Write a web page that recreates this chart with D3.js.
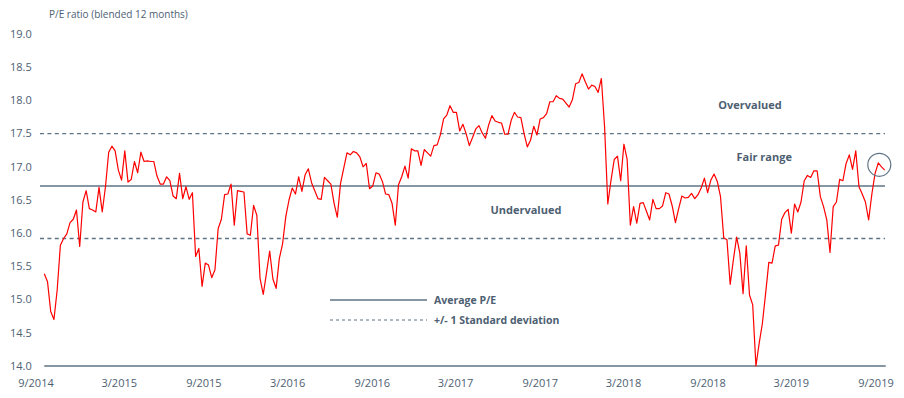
<!DOCTYPE html>
<html>
<head>
<meta charset="utf-8">
<script src="https://cdn.jsdelivr.net/npm/d3@7"></script>
<style>
  body { margin: 0; background: #fff; }
  svg { display: block; font-family: "Open Sans", "Noto Sans", sans-serif; }
</style>
</head>
<body>
<div id="chart"></div>
<script>
// weekly P/E readings, first one on 19 Sep 2014
var startDate = new Date(2014, 8, 19);
var peValues = [
  15.39, 15.27, 14.82, 14.70, 15.14, 15.82, 15.92, 15.99, 16.16, 16.21,
  16.35, 15.80, 16.47, 16.64, 16.37, 16.35, 16.32, 16.69, 16.32, 16.70,
  17.22, 17.31, 17.24, 16.95, 16.80, 17.24, 16.77, 16.81, 17.08, 16.91,
  17.22, 17.08, 17.09, 17.08, 17.08, 16.86, 16.74, 16.74, 16.85, 16.79,
  16.56, 16.52, 16.90, 16.52, 16.70, 16.51, 16.61, 15.65, 15.77, 15.20,
  15.55, 15.52, 15.33, 15.45,
  16.07, 16.21, 16.58, 16.59, 16.74, 16.12, 16.64, 16.63, 16.62, 15.99,
  15.97, 16.42, 16.27, 15.32, 15.08, 15.40, 15.73, 15.31, 15.17, 15.62,
  15.84, 16.25, 16.50, 16.68, 16.59, 16.85, 16.63, 16.88, 16.97, 16.76,
  16.64, 16.52, 16.51, 16.84, 16.79, 16.74, 16.45, 16.24, 16.75, 16.98,
  17.21, 17.18, 17.23, 17.21, 17.15, 17.00, 17.05, 16.67, 16.71, 16.91,
  16.89, 16.78,
  16.59, 16.58, 16.45, 16.12, 16.73, 16.85, 17.01, 16.83, 17.27, 17.24,
  17.24, 17.02, 17.26, 17.21, 17.16, 17.32, 17.33, 17.48, 17.72, 17.78,
  17.92, 17.82, 17.82, 17.54, 17.64, 17.50, 17.32, 17.44, 17.57, 17.62,
  17.51, 17.43, 17.63, 17.77, 17.69, 17.67, 17.66, 17.49, 17.49, 17.70,
  17.82, 17.75, 17.74, 17.50, 17.30, 17.40, 17.61, 17.48, 17.72, 17.74,
  17.80, 17.98,
  17.98, 18.07, 18.03, 18.02, 17.96, 17.90, 18.01, 18.25, 18.27, 18.40,
  18.28, 18.17, 18.23, 18.21, 18.12, 18.33, 17.60, 16.44, 16.80, 17.11,
  17.16, 16.79, 17.34, 17.11, 16.12, 16.40, 16.15, 16.45, 16.46, 16.33,
  16.20, 16.51, 16.37, 16.37, 16.41, 16.61, 16.59, 16.41, 16.16, 16.37,
  16.56, 16.53, 16.54, 16.60, 16.52, 16.58, 16.68, 16.83, 16.61, 16.80,
  16.89, 16.78,
  16.55, 15.93, 15.90, 15.23, 15.60, 15.94, 15.70, 15.09, 15.81, 15.07,
  14.92, 14.00, 14.34, 14.64, 15.09, 15.56, 15.55, 15.81, 15.82, 16.21,
  16.31, 16.36, 16.00, 16.44, 16.32, 16.47, 16.79, 16.87, 16.84, 16.94,
  16.94, 16.55, 16.40, 16.20, 15.71, 16.40, 16.47, 16.81, 16.79, 17.05,
  17.18, 16.96, 17.24, 16.70, 16.59, 16.47, 16.20, 16.59, 16.90, 17.06,
  17.00, 16.95
];

var averagePE = 16.71;
var stdDev = 0.79;

var yTicks = [14.0, 14.5, 15.0, 15.5, 16.0, 16.5, 17.0, 17.5, 18.0, 18.5, 19.0];
var xTickLabels = ['9/2014', '3/2015', '9/2015', '3/2016', '9/2016', '3/2017',
  '9/2017', '3/2018', '9/2018', '3/2019', '9/2019'];

var zoneLabels = [
  {text: 'Overvalued', value: 17.93, month: '12/2018'},
  {text: 'Fair range', value: 17.14, month: '1/2019'},
  {text: 'Undervalued', value: 16.34, month: '8/2017'}
];

var legendItems = [
  {text: 'Average P/E', dashed: false},
  {text: '+/- 1 Standard deviation', dashed: true}
];

var width = 904, height = 398;
var margin = {top: 34, right: 17, bottom: 32, left: 40};
var textColor = '#4d6072';
var lineColor = '#5e7385';

function parseMonth(s) {
  var p = s.split('/');
  return new Date(+p[1], +p[0] - 1, 1);
}

var series = peValues.map(function(v, i) {
  return {date: d3.timeDay.offset(startDate, i * 7), value: v};
});

var x = d3.scaleTime()
  .domain([parseMonth('9/2014'), parseMonth('9/2019')])
  .range([36, 876]);

var y = d3.scaleLinear()
  .domain([14, 19])
  .range([height - margin.bottom, margin.top]);

var svg = d3.select('#chart').append('svg')
  .attr('width', width)
  .attr('height', height);

var firstX = x(series[0].date);
var lastX = x(series[series.length - 1].date);

svg.append('text')
  .attr('x', 49)
  .attr('y', 18)
  .attr('fill', textColor)
  .style('font-size', '10px')
  .text('P/E ratio (blended 12 months)');

// y tick labels, no axis line
svg.append('g').selectAll('text')
  .data(yTicks)
  .enter().append('text')
  .attr('x', 10)
  .attr('y', function(d) { return y(d); })
  .attr('dy', '0.35em')
  .attr('fill', textColor)
  .style('font-size', '11px')
  .text(function(d) { return d3.format('.1f')(d); });

// x tick labels
svg.append('g').selectAll('text')
  .data(xTickLabels)
  .enter().append('text')
  .attr('x', function(d) { return x(parseMonth(d)); })
  .attr('y', y(14) + 17)
  .attr('dy', '0.35em')
  .attr('text-anchor', 'middle')
  .attr('fill', textColor)
  .style('font-size', '11px')
  .text(function(d) { return d; });

// bottom axis line
svg.append('line')
  .attr('x1', firstX).attr('x2', lastX + 1)
  .attr('y1', y(14)).attr('y2', y(14))
  .attr('stroke', lineColor)
  .attr('stroke-width', 1.6);

// average and +/- 1 sd
var refLines = [
  {value: averagePE, dashed: false},
  {value: averagePE + stdDev, dashed: true},
  {value: averagePE - stdDev, dashed: true}
];

svg.append('g').selectAll('line')
  .data(refLines)
  .enter().append('line')
  .attr('x1', 40).attr('x2', 885)
  .attr('y1', function(d) { return y(d.value); })
  .attr('y2', function(d) { return y(d.value); })
  .attr('stroke', lineColor)
  .attr('stroke-width', function(d) { return d.dashed ? 1.3 : 1.5; })
  .attr('stroke-dasharray', function(d) { return d.dashed ? '4,3.4' : null; });

svg.append('g').selectAll('text')
  .data(zoneLabels)
  .enter().append('text')
  .attr('x', function(d) { return x(parseMonth(d.month)); })
  .attr('y', function(d) { return y(d.value); })
  .attr('dy', '0.35em')
  .attr('text-anchor', 'middle')
  .attr('fill', textColor)
  .style('font-size', '11px')
  .style('font-weight', 'bold')
  .text(function(d) { return d.text; });

// P/E line
var line = d3.line()
  .x(function(d) { return x(d.date); })
  .y(function(d) { return y(d.value); });

svg.append('path')
  .datum(series)
  .attr('fill', 'none')
  .attr('stroke', '#ff0000')
  .attr('stroke-width', 1.2)
  .attr('stroke-linejoin', 'round')
  .attr('d', line);

// circle round the latest reading
var recent = series[series.length - 3];
svg.append('circle')
  .attr('cx', x(recent.date) + 1)
  .attr('cy', y(recent.value) + 2)
  .attr('r', 11.5)
  .attr('fill', 'none')
  .attr('stroke', lineColor)
  .attr('stroke-width', 1.2);

// legend
var legend = svg.append('g').attr('transform', 'translate(330, 300)');
var legendRow = legend.selectAll('g')
  .data(legendItems)
  .enter().append('g')
  .attr('transform', function(d, i) { return 'translate(0,' + (i * 20) + ')'; });

legendRow.append('line')
  .attr('x1', 0).attr('x2', 97)
  .attr('stroke', lineColor)
  .attr('stroke-width', function(d) { return d.dashed ? 1 : 1.3; })
  .attr('stroke-dasharray', function(d) { return d.dashed ? '3,3' : null; });

legendRow.append('text')
  .attr('x', 104)
  .attr('dy', '0.35em')
  .attr('fill', textColor)
  .style('font-size', '10.5px')
  .style('font-weight', 'bold')
  .text(function(d) { return d.text; });
</script>
</body>
</html>
